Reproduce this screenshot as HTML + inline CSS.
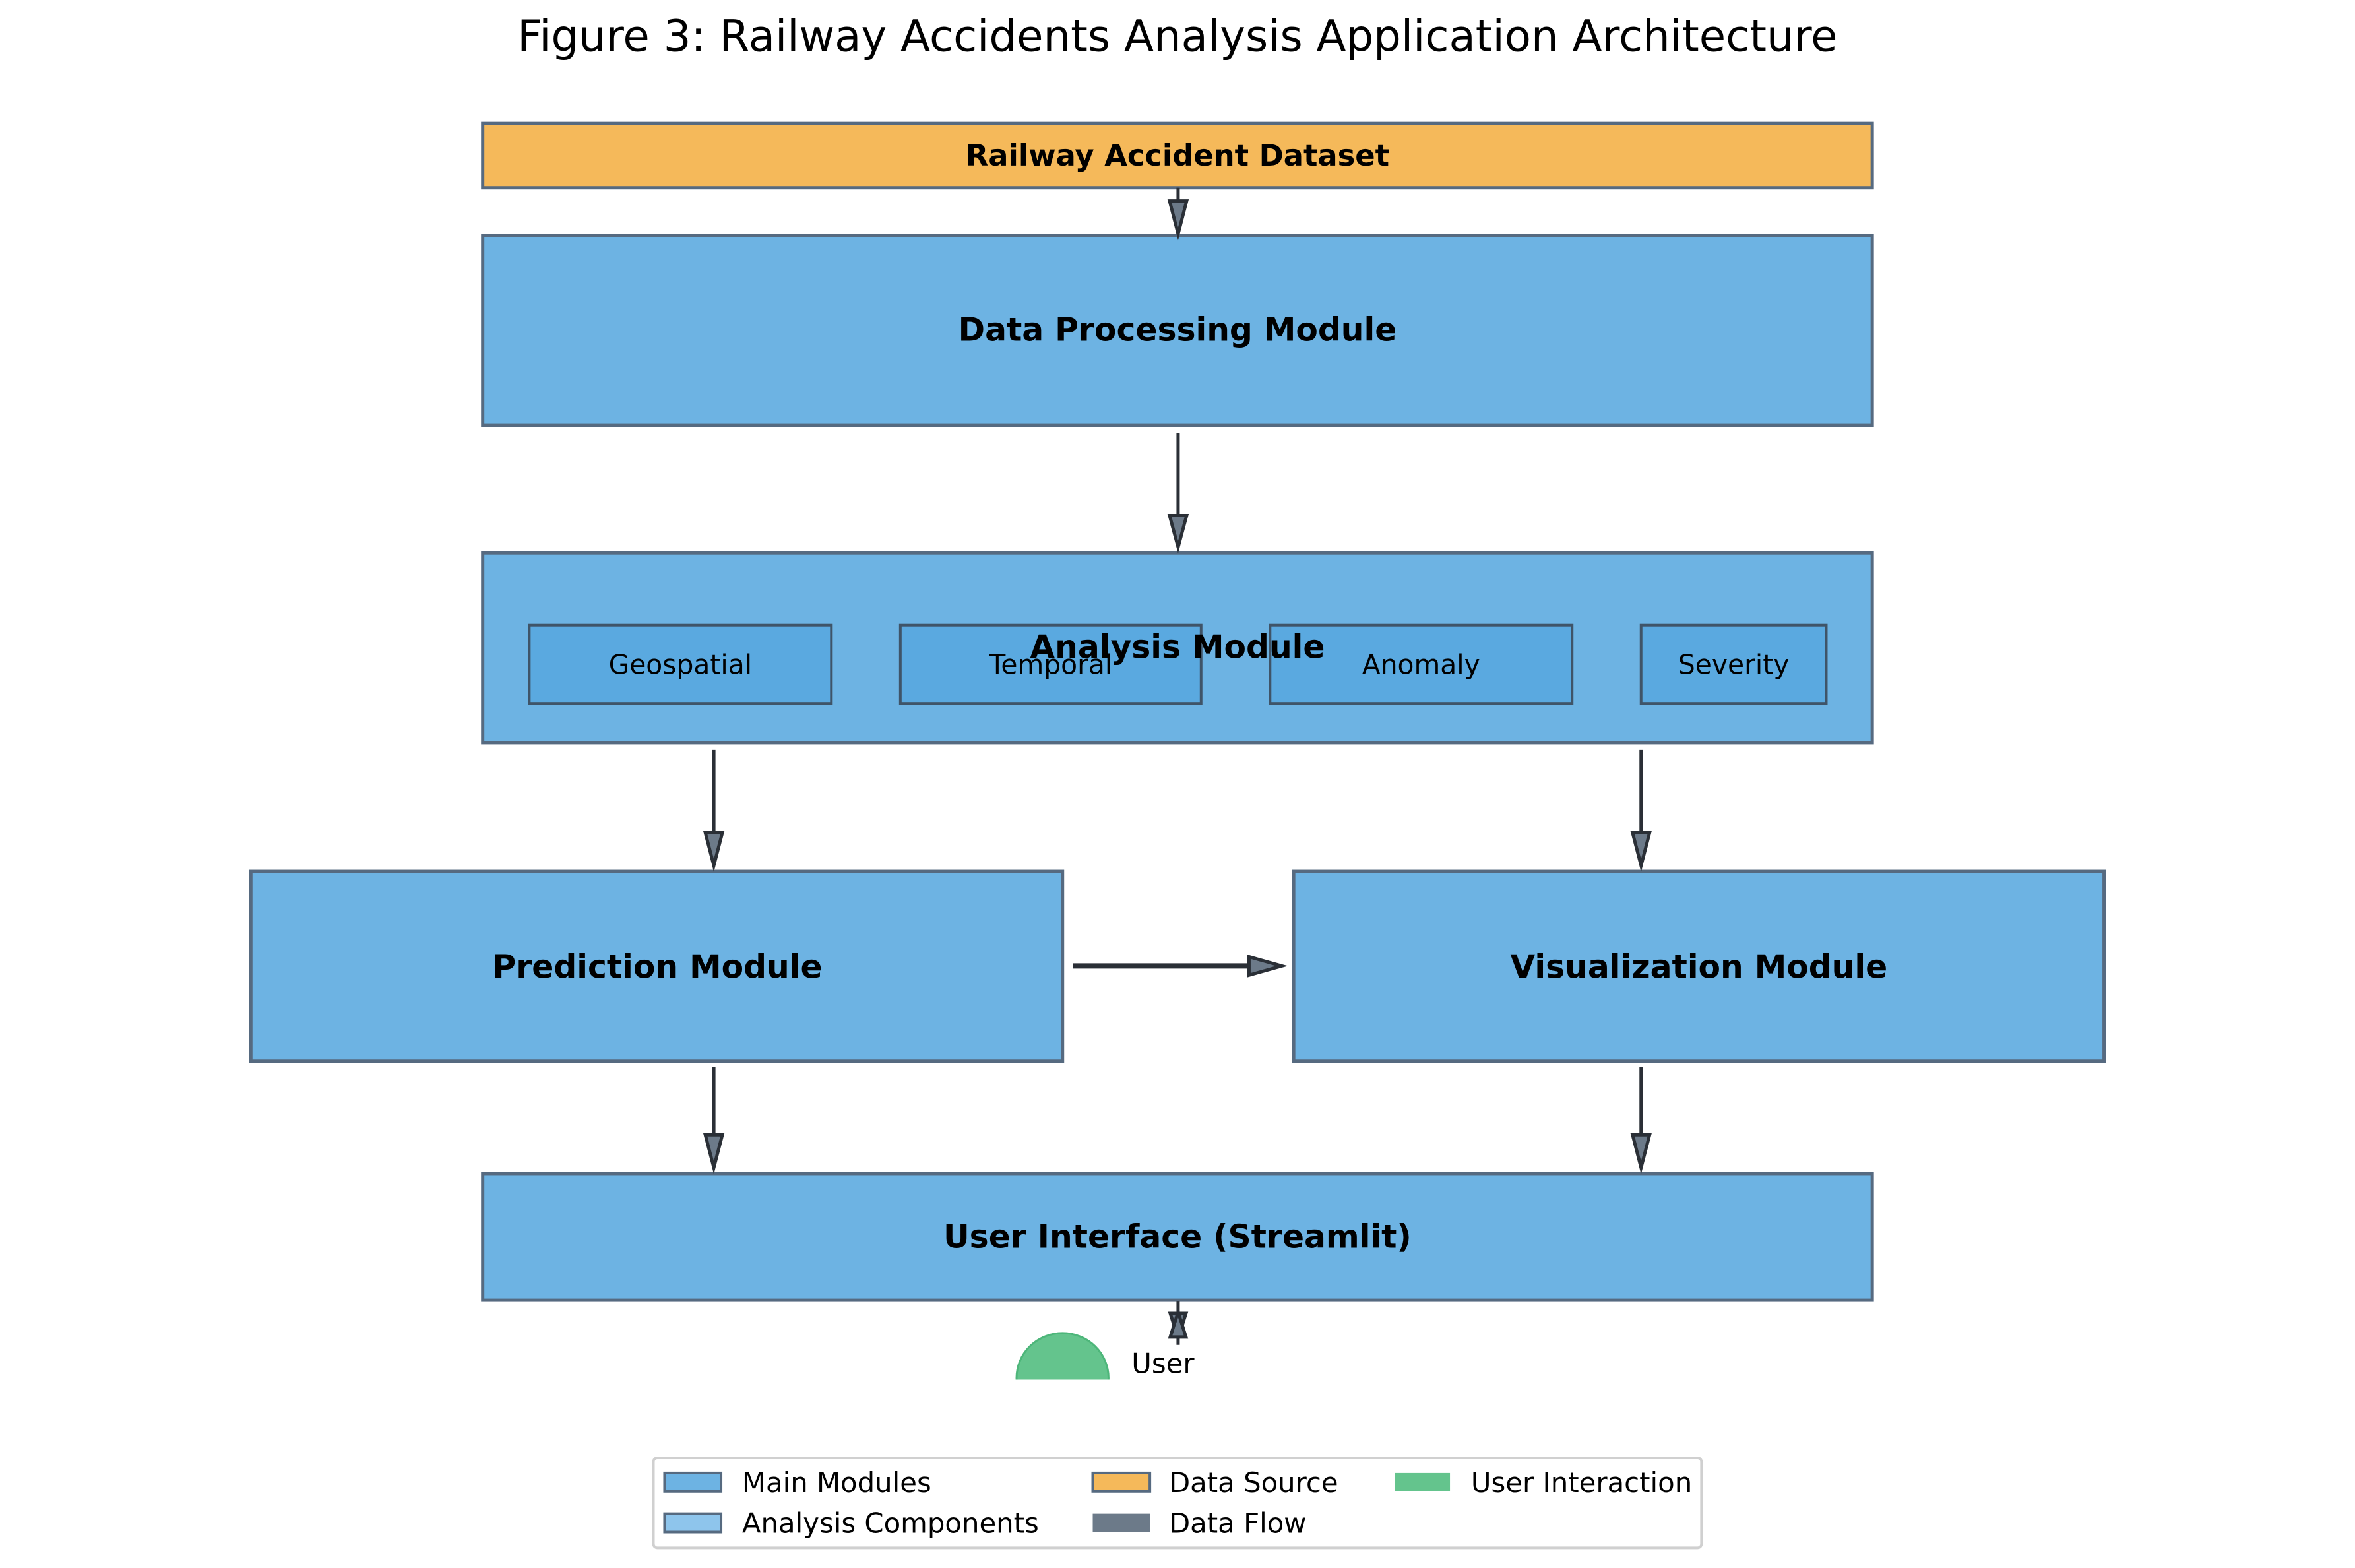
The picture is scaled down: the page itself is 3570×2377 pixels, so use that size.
<!DOCTYPE html>
<html><head><meta charset="utf-8"><style>
html,body{margin:0;padding:0;background:#fff}
svg{display:block}
text{font-family:"DejaVu Sans","Liberation Sans",sans-serif}
</style></head><body>
<svg width="3570" height="2377" viewBox="0 0 3570 2377" xmlns="http://www.w3.org/2000/svg">
<rect width="3570" height="2377" fill="#fff"/>
<g transform="scale(0.9955)">
<text x="1793" y="78" font-size="66" text-anchor="middle" fill="#000">Figure 3: Railway Accidents Analysis Application Architecture</text>

<g stroke="#566a80" stroke-width="5">
<rect x="735" y="188" width="2116" height="98" fill="#f5b95a"/>
<rect x="735" y="359" width="2116" height="289" fill="#6db3e3"/>
<rect x="735" y="842" width="2116" height="289" fill="#6db3e3"/>
<rect x="382" y="1327" width="1236" height="289" fill="#6db3e3"/>
<rect x="1970" y="1327" width="1234" height="289" fill="#6db3e3"/>
<rect x="735" y="1787" width="2116" height="193" fill="#6db3e3"/>
</g>
<g stroke="#3f5468" stroke-width="4" fill="#5aa9e0">
<rect x="806" y="952" width="460" height="119"/>
<rect x="1371" y="952" width="458" height="119"/>
<rect x="1934" y="952" width="460" height="119"/>
<rect x="2499" y="952" width="282" height="119"/>
</g>

<g font-weight="bold" font-size="49" text-anchor="middle" fill="#000">
<text x="1793" y="252" font-size="45">Railway Accident Dataset</text>
<text x="1793" y="519">Data Processing Module</text>
<text x="1001" y="1489">Prediction Module</text>
<text x="2587" y="1489">Visualization Module</text>
<text x="1793" y="1900">User Interface (Streamlit)</text>
</g>
<g font-size="41" text-anchor="middle" fill="#000">
<text x="1036" y="1026">Geospatial</text>
<text x="1600" y="1026">Temporal</text>
<text x="2164" y="1026">Anomaly</text>
<text x="2640" y="1026">Severity</text>
</g>
<text x="1793" y="1002" font-weight="bold" font-size="49" text-anchor="middle" fill="#000">Analysis Module</text>

<g stroke="#2a2f36" stroke-width="5" fill="#6c7a89" stroke-linejoin="miter">
<line x1="1794" y1="286" x2="1794" y2="310"/>
<polygon points="1781,306 1807,306 1794,356"/>
<line x1="1794" y1="659" x2="1794" y2="790"/>
<polygon points="1781,785 1807,785 1794,833"/>
<line x1="1087" y1="1142" x2="1087" y2="1272"/>
<polygon points="1074,1268 1100,1268 1087,1318"/>
<line x1="2499" y1="1142" x2="2499" y2="1272"/>
<polygon points="2486,1268 2512,1268 2499,1318"/>
<line x1="1087" y1="1625" x2="1087" y2="1732"/>
<polygon points="1074,1728 1100,1728 1087,1778"/>
<line x1="2499" y1="1625" x2="2499" y2="1732"/>
<polygon points="2486,1728 2512,1728 2499,1778"/>
<line x1="1634" y1="1471" x2="1905" y2="1471" stroke-width="8"/>
<polygon points="1902,1457 1902,1485 1952,1471"/>
<line x1="1794" y1="1982" x2="1794" y2="2048"/>
<polygon points="1782,2000 1806,2000 1794,2038"/>
<polygon points="1782,2036 1806,2036 1794,1998"/>
</g>

<defs><clipPath id="c"><rect x="0" y="0" width="3570" height="2101"/></clipPath></defs>
<ellipse cx="1618" cy="2098" rx="70" ry="68" fill="#64c48d" stroke="#4db67a" stroke-width="3" clip-path="url(#c)"/>
<text x="1723" y="2091" font-size="42" fill="#000">User</text>

<rect x="995" y="2220" width="1596" height="137" fill="#fff" stroke="#d0d0d0" stroke-width="4" rx="6"/>
<g stroke="#566a80" stroke-width="4">
<rect x="1012" y="2243" width="86" height="28" fill="#6db3e3"/>
<rect x="1012" y="2305" width="86" height="28" fill="#8ec5ec"/>
<rect x="1664" y="2243" width="87" height="28" fill="#f5b95a"/>
</g>
<rect x="1664" y="2305" width="87" height="28" fill="#6c7a89"/>
<rect x="2124" y="2243" width="84" height="28" fill="#64c48d"/>
<g font-size="42" fill="#000">
<text x="1130" y="2272">Main Modules</text>
<text x="1130" y="2334">Analysis Components</text>
<text x="1780" y="2272">Data Source</text>
<text x="1780" y="2334">Data Flow</text>
<text x="2240" y="2272">User Interaction</text>
</g>
</g>
</svg>
</body></html>
